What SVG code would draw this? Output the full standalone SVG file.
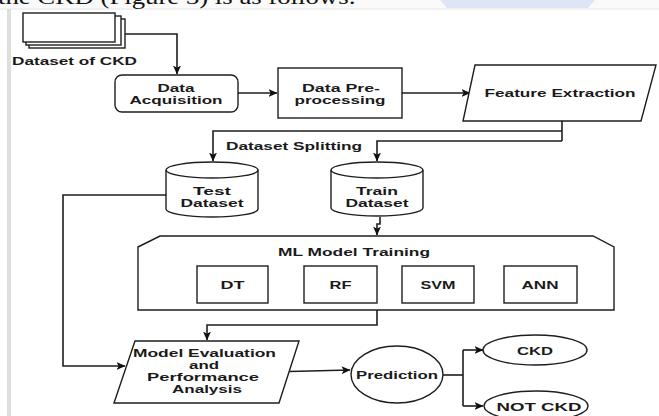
<svg xmlns="http://www.w3.org/2000/svg" width="659" height="416" viewBox="0 0 659 416">
  <style>
    .shape { fill: #ffffff; stroke: #1e1e1e; stroke-width: 1.4; }
    .wire { fill: none; stroke: #1e1e1e; stroke-width: 1.6; }
    .lbl { font-family: "Liberation Sans", Arial, sans-serif; font-weight: bold; font-size: 11.5px; fill: #1a1a1a; text-anchor: middle; }
    .sm { font-size: 11px; }
    .page { font-family: "Liberation Serif", "Times New Roman", serif; font-size: 20px; fill: #111; }
  </style>
  <defs>
    <marker id="arrow" viewBox="0 0 9 8" refX="8.5" refY="4" markerWidth="9" markerHeight="8" markerUnits="userSpaceOnUse" orient="auto">
      <path d="M0,0 L9,4 L0,8 L2.2,4 z" fill="#111"/>
    </marker>
  </defs>

  <!-- page background and surrounding document text -->
  <rect x="0" y="0" width="659" height="416" fill="#ffffff"/>
  <rect x="0" y="0" width="659" height="9" fill="#fafafa"/>
  <path d="M440,0 L595,0 L588,8 L447,8 z" fill="#dfe5f6"/>
  <line x1="0" y1="9" x2="659" y2="9" stroke="#e6e6e6" stroke-width="1"/>
  <rect x="7" y="9" width="4" height="407" fill="#dedede"/>
  <text class="page" x="-2" y="4" textLength="358" lengthAdjust="spacingAndGlyphs">the CKD (Figure 3) is as follows:</text>

  <!-- connectors -->
  <g id="connectors">
    <path class="wire" d="M125,34 H177 V74" marker-end="url(#arrow)"/>
    <path class="wire" d="M238,93 H277" marker-end="url(#arrow)"/>
    <path class="wire" d="M402,93 H470" marker-end="url(#arrow)"/>
    <path class="wire" d="M562,121 V141"/>
    <path class="wire" d="M562,131 H213 V161" marker-end="url(#arrow)"/>
    <path class="wire" d="M562,141 H377 V161" marker-end="url(#arrow)"/>
    <path class="wire" d="M166,195 H63 V366 H125" marker-end="url(#arrow)"/>
    <path class="wire" d="M380,217 V224 H377 V235" marker-end="url(#arrow)"/>
    <path class="wire" d="M377,310 V325 H207 V340" marker-end="url(#arrow)"/>
    <path class="wire" d="M289,371.5 L350,370" marker-end="url(#arrow)"/>
    <path class="wire" d="M443,375 H463"/>
    <path class="wire" d="M463,350 V406"/>
    <path class="wire" d="M463,350 H483" marker-end="url(#arrow)"/>
    <path class="wire" d="M463,406 H483" marker-end="url(#arrow)"/>
    <text class="lbl" x="294" y="150" textLength="136" lengthAdjust="spacingAndGlyphs">Dataset Splitting</text>
  </g>

  <!-- source data: stacked documents -->
  <g id="dataset-of-ckd">
    <rect class="shape" x="29" y="19" width="96" height="29"/>
    <rect class="shape" x="26" y="16" width="95" height="29"/>
    <rect class="shape" x="23" y="13" width="92" height="29"/>
    <text class="lbl" x="74.5" y="64.5" textLength="125" lengthAdjust="spacingAndGlyphs">Dataset of CKD</text>
  </g>

  <g id="data-acquisition">
    <rect class="shape" x="115" y="75" width="123" height="37" rx="7"/>
    <text class="lbl sm" x="176" y="91.5" textLength="37" lengthAdjust="spacingAndGlyphs">Data</text>
    <text class="lbl sm" x="176" y="104" textLength="93" lengthAdjust="spacingAndGlyphs">Acquisition</text>
  </g>

  <g id="data-preprocessing">
    <rect class="shape" x="278" y="68" width="124" height="50"/>
    <text class="lbl sm" x="341" y="91.5" textLength="78" lengthAdjust="spacingAndGlyphs">Data Pre-</text>
    <text class="lbl sm" x="340" y="104" textLength="91" lengthAdjust="spacingAndGlyphs">processing</text>
  </g>

  <g id="feature-extraction">
    <polygon class="shape" points="475,65 656,65 641,121 463,121"/>
    <text class="lbl" x="560" y="97" textLength="151" lengthAdjust="spacingAndGlyphs">Feature Extraction</text>
  </g>

  <g id="test-dataset">
    <path class="shape" d="M166,170 A46,8 0 0,1 258,170 V209 A46,8 0 0,1 166,209 Z"/>
    <path class="wire" style="stroke-width:1.4" d="M166,170 A46,8 0 0,0 258,170"/>
    <text class="lbl sm" x="212" y="194.5" textLength="38" lengthAdjust="spacingAndGlyphs">Test</text>
    <text class="lbl sm" x="212" y="207" textLength="63" lengthAdjust="spacingAndGlyphs">Dataset</text>
  </g>

  <g id="train-dataset">
    <path class="shape" d="M331,170 A46,8 0 0,1 423,170 V208 A46,8 0 0,1 331,208 Z"/>
    <path class="wire" style="stroke-width:1.4" d="M331,170 A46,8 0 0,0 423,170"/>
    <text class="lbl sm" x="377" y="194.5" textLength="42" lengthAdjust="spacingAndGlyphs">Train</text>
    <text class="lbl sm" x="377" y="207" textLength="63" lengthAdjust="spacingAndGlyphs">Dataset</text>
  </g>

  <g id="ml-model-training">
    <polygon class="shape" points="138,247 160,236 593,236 614,247 614,310 138,310"/>
    <text class="lbl" x="354" y="256" textLength="152" lengthAdjust="spacingAndGlyphs">ML Model Training</text>
  </g>

  <g id="dt">
    <rect class="shape" x="197" y="266" width="71" height="37"/>
    <text class="lbl" x="232.5" y="289" textLength="24" lengthAdjust="spacingAndGlyphs">DT</text>
  </g>
  <g id="rf">
    <rect class="shape" x="304" y="266" width="73" height="37"/>
    <text class="lbl" x="340.5" y="289" textLength="22" lengthAdjust="spacingAndGlyphs">RF</text>
  </g>
  <g id="svm">
    <rect class="shape" x="402" y="266" width="72" height="37"/>
    <text class="lbl" x="438" y="289" textLength="35" lengthAdjust="spacingAndGlyphs">SVM</text>
  </g>
  <g id="ann">
    <rect class="shape" x="504" y="266" width="73" height="37"/>
    <text class="lbl" x="540" y="289" textLength="37" lengthAdjust="spacingAndGlyphs">ANN</text>
  </g>

  <g id="model-evaluation">
    <polygon class="shape" points="135,341 299,341 279,403 114,403"/>
    <text class="lbl sm" x="204.5" y="356.5" textLength="143" lengthAdjust="spacingAndGlyphs">Model Evaluation</text>
    <text class="lbl sm" x="204" y="368.8" textLength="30" lengthAdjust="spacingAndGlyphs">and</text>
    <text class="lbl sm" x="203" y="381.1" textLength="112" lengthAdjust="spacingAndGlyphs">Performance</text>
    <text class="lbl sm" x="207" y="393.4" textLength="70" lengthAdjust="spacingAndGlyphs">Analysis</text>
  </g>

  <g id="prediction">
    <ellipse class="shape" cx="397" cy="374.5" rx="46" ry="28.5"/>
    <text class="lbl" x="397" y="379" textLength="82" lengthAdjust="spacingAndGlyphs">Prediction</text>
  </g>

  <g id="ckd">
    <ellipse class="shape" cx="535" cy="350" rx="52" ry="15"/>
    <text class="lbl" x="535" y="354.5" textLength="36" lengthAdjust="spacingAndGlyphs">CKD</text>
  </g>

  <g id="not-ckd">
    <ellipse class="shape" cx="536" cy="406" rx="52" ry="15"/>
    <text class="lbl" x="539" y="410.5" textLength="85" lengthAdjust="spacingAndGlyphs">NOT CKD</text>
  </g>
</svg>
